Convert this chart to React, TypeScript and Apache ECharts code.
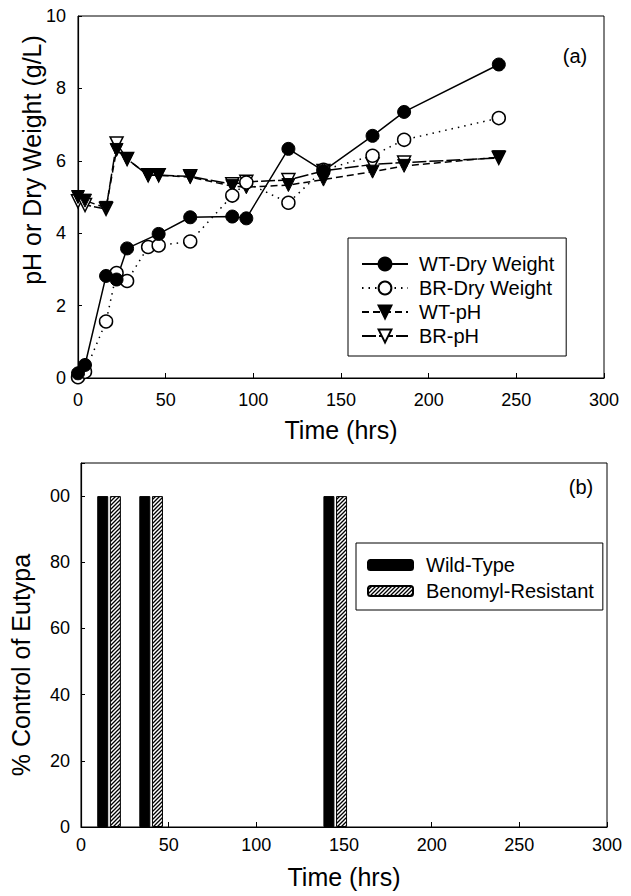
import React, { useEffect, useRef } from "react";
import * as echarts from "echarts";

const FONT = "'Liberation Sans', Arial, Helvetica, sans-serif";

// Panel (a)
const times = [0, 4, 16, 22, 28, 40, 46, 64, 88, 96, 120, 140, 168, 186, 240];
const wtDryWeight = [0.13, 0.36, 2.82, 2.72, 3.58, null, 3.98, 4.44, 4.46, 4.41, 6.33, 5.72, 6.69, 7.35, 8.66];
const brDryWeight = [0.02, 0.17, 1.56, 2.9, 2.68, 3.62, 3.66, 3.77, 5.04, 5.4, 4.84, 5.75, 6.14, 6.58, 7.18];
const wtPH = [5.0, 4.9, 4.7, 6.3, 6.05, 5.6, 5.6, 5.55, 5.3, 5.27, 5.33, 5.48, 5.7, 5.86, 6.1];
const brPH = [4.88, 4.78, 4.67, 6.48, 6.05, 5.6, 5.6, 5.57, 5.35, 5.42, 5.47, 5.72, 5.9, 5.95, 6.08];

// Panel (b)
const barTimes = [16, 40, 145];
const wtControl = [100, 100, 100];
const brControl = [100, 100, 100];
const bottomYLabels = ["0", "20", "40", "60", "80", "00"];

const toPairs = (vals: (number | null)[]) =>
  times.map((t, i) => [t, vals[i] === null ? "-" : vals[i]]);

function makeHatch() {
  const c = document.createElement("canvas");
  c.width = 4;
  c.height = 4;
  const g = c.getContext("2d")!;
  g.fillStyle = "#fff";
  g.fillRect(0, 0, 4, 4);
  g.strokeStyle = "#000";
  g.lineWidth = 1.3;
  g.beginPath();
  g.moveTo(-1, 5);
  g.lineTo(5, -1);
  g.moveTo(-1, 1);
  g.lineTo(1, -1);
  g.moveTo(3, 5);
  g.lineTo(5, 3);
  g.stroke();
  return c;
}

export default function App() {
  const ref = useRef<HTMLDivElement>(null);
  useEffect(() => {
    if (!ref.current) return;
    const chart = echarts.init(ref.current, undefined, { renderer: "svg" });
    const hatch = makeHatch();
    const axisCommon = {
      axisLine: { show: true, lineStyle: { color: "#000", width: 1.2 } },
      axisTick: { show: true, inside: true, length: 5, lineStyle: { color: "#000" } },
      splitLine: { show: false },
      axisLabel: { color: "#000", fontSize: 18, fontFamily: FONT },
    };
    const lineBase = {
      type: "line",
      xAxisIndex: 0,
      yAxisIndex: 0,
      connectNulls: true,
      symbolSize: 13,
      z: 2,
    };
    const option: any = {
      animation: false,
      backgroundColor: "#fff",
      grid: [
        { left: 78, top: 16, width: 526, height: 362, show: true, borderColor: "#000", borderWidth: 1 },
        { left: 81, top: 463, width: 526, height: 364, show: true, borderColor: "#000", borderWidth: 1 },
      ],
      xAxis: [
        { ...axisCommon, type: "value", gridIndex: 0, min: 0, max: 300, interval: 50, axisLabel: { ...axisCommon.axisLabel, margin: 13 } },
        { ...axisCommon, type: "value", gridIndex: 1, min: 0, max: 300, interval: 50, axisLabel: { ...axisCommon.axisLabel, margin: 9 } },
      ],
      yAxis: [
        { ...axisCommon, type: "value", gridIndex: 0, min: 0, max: 10, interval: 2, axisTick: { ...axisCommon.axisTick, length: 4 }, axisLabel: { ...axisCommon.axisLabel, margin: 12 } },
        {
          ...axisCommon,
          type: "value",
          gridIndex: 1,
          min: 0,
          max: 110,
          interval: 20,
          axisTick: { ...axisCommon.axisTick, length: 4 },
          axisLabel: {
            ...axisCommon.axisLabel,
            margin: 11,
            formatter: (v: number) => (v % 20 === 0 && v <= 100 ? bottomYLabels[v / 20] : ""),
          },
        },
      ],
      legend: [
        {
          orient: "vertical",
          left: 348,
          top: 238,
          itemWidth: 46,
          itemHeight: 16,
          itemGap: 4,
          padding: [16, 12, 10, 13],
          borderColor: "#000",
          borderWidth: 1,
          textStyle: { fontSize: 20, color: "#000", fontFamily: FONT, padding: [0, 0, 0, 6] },
          data: ["WT-Dry Weight", "BR-Dry Weight", "WT-pH", "BR-pH"],
        },
        {
          orient: "vertical",
          left: 356,
          top: 543,
          itemWidth: 45,
          itemHeight: 10,
          itemGap: 6,
          padding: [12, 9, 9, 11],
          borderColor: "#000",
          borderWidth: 1,
          textStyle: { fontSize: 20, color: "#000", fontFamily: FONT, padding: [0, 0, 0, 8] },
          data: ["Wild-Type", "Benomyl-Resistant"],
        },
      ],
      graphic: [
        { type: "text", x: 575, y: 56, style: { text: "(a)", font: `20px ${FONT}`, fill: "#000", align: "center", verticalAlign: "middle" } },
        { type: "text", x: 581, y: 487, style: { text: "(b)", font: `20px ${FONT}`, fill: "#000", align: "center", verticalAlign: "middle" } },
        { type: "text", x: 341, y: 430, style: { text: "Time (hrs)", font: `25px ${FONT}`, fill: "#000", align: "center", verticalAlign: "middle" } },
        { type: "text", x: 344, y: 877, style: { text: "Time (hrs)", font: `25px ${FONT}`, fill: "#000", align: "center", verticalAlign: "middle" } },
        { type: "text", x: 32, y: 160, rotation: Math.PI / 2, style: { text: "pH or Dry Weight (g/L)", font: `25px ${FONT}`, fill: "#000", align: "center", verticalAlign: "middle" } },
        { type: "text", x: 21, y: 665, rotation: Math.PI / 2, style: { text: "% Control of Eutypa", font: `25px ${FONT}`, fill: "#000", align: "center", verticalAlign: "middle" } },
      ],
      series: [
        {
          ...lineBase,
          name: "BR-pH",
          data: toPairs(brPH),
          symbol: "triangle",
          symbolRotate: 180,
          itemStyle: { color: "#fff", borderColor: "#000", borderWidth: 1.5 },
          lineStyle: { color: "#000", width: 1.5, type: [14, 3] },
        },
        {
          ...lineBase,
          name: "WT-pH",
          data: toPairs(wtPH),
          symbol: "triangle",
          symbolRotate: 180,
          itemStyle: { color: "#000", borderColor: "#000", borderWidth: 1 },
          lineStyle: { color: "#000", width: 1.5, type: [7, 4] },
        },
        {
          ...lineBase,
          name: "BR-Dry Weight",
          data: toPairs(brDryWeight),
          symbol: "circle",
          itemStyle: { color: "#fff", borderColor: "#000", borderWidth: 1.5 },
          lineStyle: { color: "#000", width: 1.5, type: [1.5, 5] },
        },
        {
          ...lineBase,
          name: "WT-Dry Weight",
          data: toPairs(wtDryWeight),
          symbol: "circle",
          itemStyle: { color: "#000", borderColor: "#000", borderWidth: 1 },
          lineStyle: { color: "#000", width: 1.5, type: "solid" },
        },
        {
          type: "bar",
          name: "Wild-Type",
          xAxisIndex: 1,
          yAxisIndex: 1,
          barWidth: 11,
          barGap: "15%",
          data: barTimes.map((t, i) => [t, wtControl[i]]),
          itemStyle: { color: "#000", borderColor: "#000", borderWidth: 1 },
        },
        {
          type: "bar",
          name: "Benomyl-Resistant",
          xAxisIndex: 1,
          yAxisIndex: 1,
          barWidth: 11,
          barGap: "15%",
          data: barTimes.map((t, i) => [t, brControl[i]]),
          itemStyle: { color: { image: hatch, repeat: "repeat" }, borderColor: "#000", borderWidth: 1 },
        },
      ],
    };
    chart.setOption(option);
    return () => chart.dispose();
  }, []);
  return (
    <div
      ref={ref}
      style={{ position: "absolute", left: 0, top: 0, width: 631, height: 896, background: "#fff" }}
    />
  );
}
